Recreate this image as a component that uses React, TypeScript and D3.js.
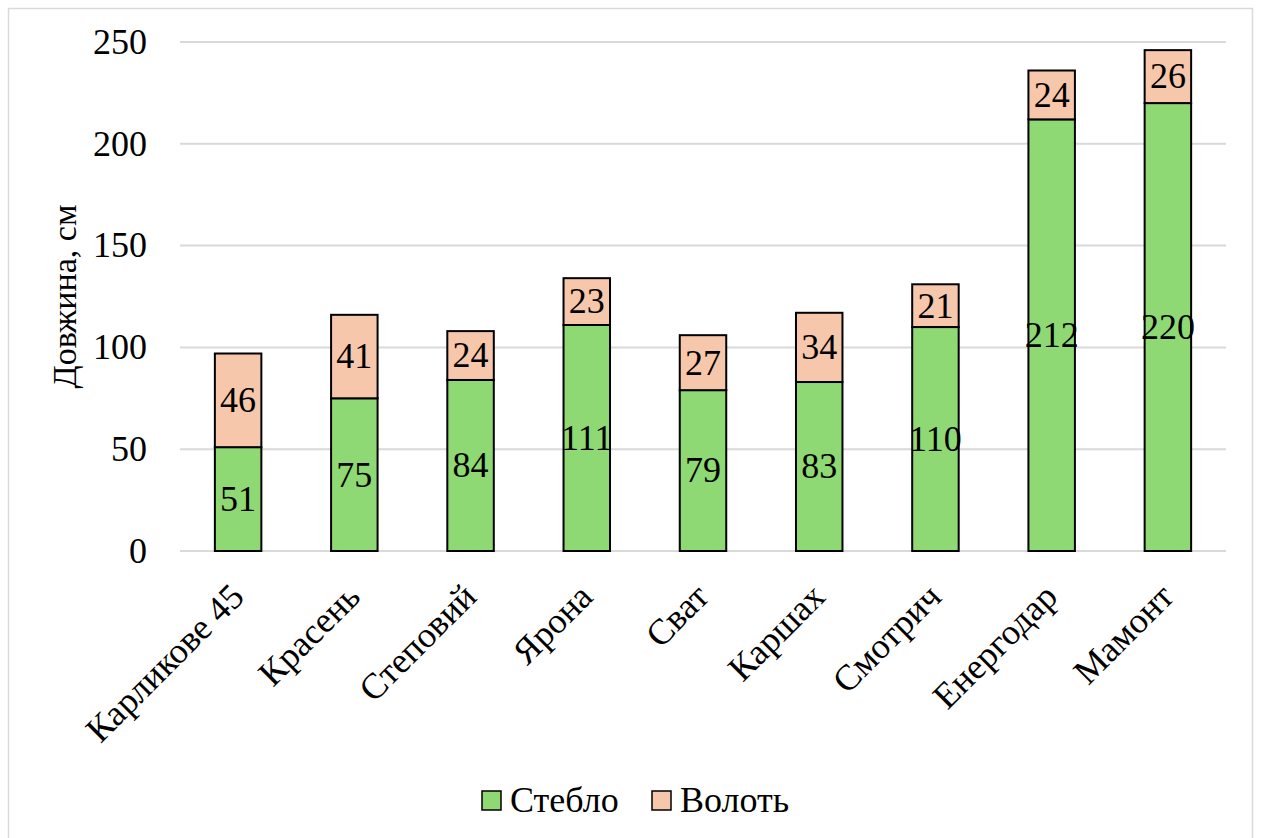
import React, { useEffect, useRef } from 'react';
import * as d3 from 'd3';

const varieties = ['Карликове 45', 'Красень', 'Степовий', 'Ярона', 'Сват', 'Каршах', 'Смотрич', 'Енергодар', 'Мамонт'];
const stem = [51, 75, 84, 111, 79, 83, 110, 212, 220];
const panicle = [46, 41, 24, 23, 27, 34, 21, 24, 26];
const yTicks = [0, 50, 100, 150, 200, 250];
const seriesNames = ['Стебло', 'Волоть'];
const seriesColors = ['#8ed973', '#f7c7ac'];

const W = 1261;
const H = 838;
const FONT = 'Liberation Serif, DejaVu Serif, serif';

const App: React.FC = () => {
  const svgRef = useRef<SVGSVGElement>(null);

  useEffect(() => {
    if (!svgRef.current) return;
    const svg = d3.select(svgRef.current);
    svg.selectAll('*').remove();

    const left = 180, right = 1226, top = 42, bottom = 551;

    const x = d3.scaleBand<string>().domain(varieties).range([left, right]).paddingInner(0.6).paddingOuter(0.3);
    const y = d3.scaleLinear().domain([0, 250]).range([bottom, top]);

    // outer frame
    svg.append('rect')
      .attr('x', 8.5).attr('y', 8.5)
      .attr('width', 1244).attr('height', 840)
      .attr('fill', 'white').attr('stroke', '#d9d9d9').attr('stroke-width', 1.5);

    // grid
    svg.append('g').selectAll('line')
      .data(yTicks)
      .enter().append('line')
      .attr('x1', left).attr('x2', right)
      .attr('y1', d => y(d)).attr('y2', d => y(d))
      .attr('stroke', '#d9d9d9').attr('stroke-width', 2);

    svg.append('g').selectAll('text')
      .data(yTicks)
      .enter().append('text')
      .attr('x', 147).attr('y', d => y(d))
      .attr('dy', '0.33em')
      .attr('text-anchor', 'end')
      .attr('font-size', 36)
      .text(d => d);

    svg.append('text')
      .attr('transform', `translate(76,${(top + bottom) / 2}) rotate(-90)`)
      .attr('text-anchor', 'middle')
      .attr('font-size', 34)
      .text('Довжина, см');

    const rows = varieties.map((name, i) => ({ name, s: stem[i], p: panicle[i] }));
    const stack = d3.stack<any>().keys(['s', 'p'])(rows);

    const layers = svg.append('g').selectAll('g')
      .data(stack)
      .enter().append('g')
      .attr('fill', (d, i) => seriesColors[i]);

    layers.selectAll('rect')
      .data(d => d)
      .enter().append('rect')
      .attr('x', d => x(d.data.name)!)
      .attr('width', x.bandwidth())
      .attr('y', d => y(d[1]))
      .attr('height', d => y(d[0]) - y(d[1]))
      .attr('stroke', 'black').attr('stroke-width', 2);

    layers.selectAll('text')
      .data(d => d)
      .enter().append('text')
      .attr('x', d => x(d.data.name)! + x.bandwidth() / 2)
      .attr('y', d => y((d[0] + d[1]) / 2))
      .attr('dy', '0.33em')
      .attr('text-anchor', 'middle')
      .attr('fill', 'black')
      .attr('font-size', 36)
      .text(d => d[1] - d[0]);

    // x labels
    svg.append('g').selectAll('text')
      .data(varieties)
      .enter().append('text')
      .attr('transform', d => `translate(${x(d)! + x.bandwidth() / 2 - 10},${bottom + 30}) rotate(-45)`)
      .attr('text-anchor', 'end')
      .attr('dy', '0.7em')
      .attr('font-size', 36)
      .text(d => d);

    // legend
    const legendX = [482, 652];
    seriesNames.forEach((n, i) => {
      svg.append('rect')
        .attr('x', legendX[i]).attr('y', 791)
        .attr('width', 19).attr('height', 19)
        .attr('fill', seriesColors[i]).attr('stroke', 'black').attr('stroke-width', 1.5);
      svg.append('text')
        .attr('x', legendX[i] + 28).attr('y', 812)
        .attr('font-size', 36)
        .text(n);
    });
  }, []);

  return (
    <svg ref={svgRef} width={W} height={H} fontFamily={FONT} style={{ position: 'absolute', left: 0, top: 0 }} />
  );
};

export default App;
